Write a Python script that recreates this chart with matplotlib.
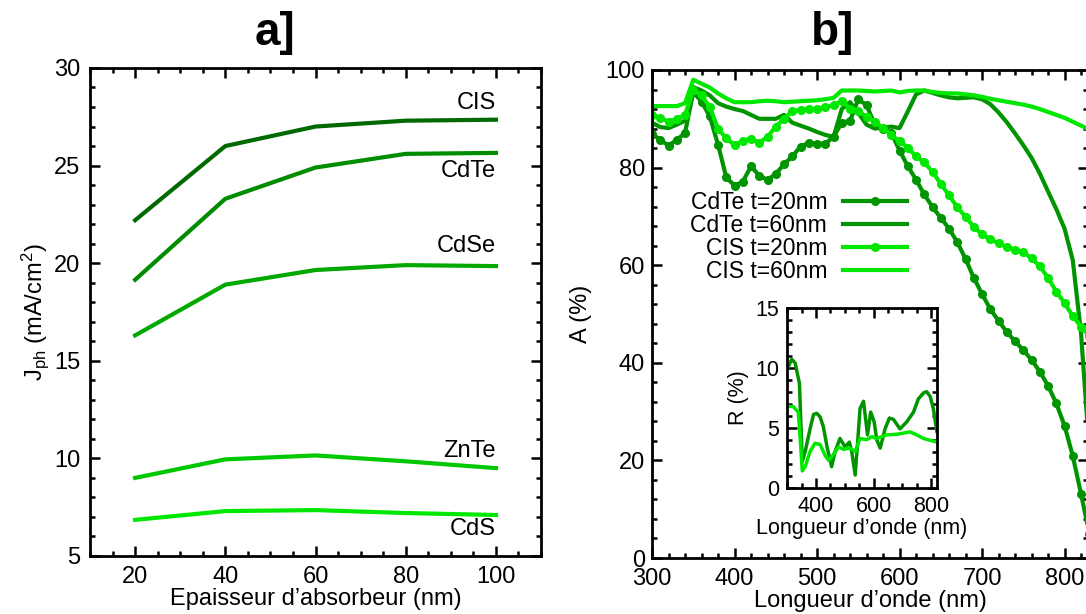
import numpy as np
import matplotlib
matplotlib.use('Agg')
import matplotlib.pyplot as plt
from matplotlib.ticker import MultipleLocator

plt.rcParams['font.family'] = ['Liberation Sans', 'DejaVu Sans']
plt.rcParams['mathtext.fontset'] = 'custom'
plt.rcParams['mathtext.rm'] = 'Liberation Sans'
plt.rcParams['mathtext.it'] = 'Liberation Sans:italic'

# panel a: photocurrent vs absorber thickness
thick = [20, 40, 60, 80, 100]
jph_cis = [22.2, 26.0, 27.0, 27.3, 27.35]
jph_cdte = [19.15, 23.3, 24.9, 25.6, 25.65]
jph_cdse = [16.3, 18.9, 19.65, 19.9, 19.85]
jph_znte = [9.0, 9.95, 10.15, 9.85, 9.5]
jph_cds = [6.85, 7.3, 7.35, 7.2, 7.1]
mat_names = ['CIS', 'CdTe', 'CdSe', 'ZnTe', 'CdS']
label_y = [28.2, 24.7, 20.9, 10.4, 6.4]

# panel b: absorption spectra (10 nm steps)
wl = np.arange(300, 840, 10)
a_cdte20 = [86.9, 85.7, 84.5, 85.7, 87.1, 95.5, 93.5, 90.5, 84.7, 78.0,
            76.3, 77.1, 80.3, 78.3, 77.5, 78.7, 80.7, 82.3, 84.3, 85.1,
            84.9, 84.9, 86.3, 89.2, 89.6, 94.0, 92.8, 88.8, 88.0, 87.1,
            83.5, 80.3, 77.5, 74.5, 71.9, 69.7, 67.5, 64.7, 61.3, 57.4,
            54.1, 51.0, 48.6, 46.3, 44.4, 42.6, 40.6, 38.2, 35.3, 31.7,
            27.1, 20.9, 13.1, 5.0]
a_cdte60 = [89.2, 88.3, 88.1, 88.8, 89.6, 96.5, 95.8, 94.8, 93.2, 92.5,
            92.0, 91.6, 90.8, 90.0, 90.0, 90.0, 90.8, 89.2, 88.6, 88.0,
            87.3, 86.7, 86.3, 92.0, 93.4, 91.2, 88.8, 88.0, 88.2, 88.4,
            88.1, 91.5, 95.0, 95.8, 95.3, 94.8, 94.4, 94.2, 94.3, 94.4,
            94.0, 93.0, 91.3, 89.3, 87.0, 84.6, 82.0, 78.8, 75.1, 71.5,
            67.5, 61.0, 46.0, 22.0]
a_cis20 = [90.8, 90.2, 89.4, 90.0, 90.8, 96.0, 94.8, 92.4, 88.0, 86.0,
           84.6, 85.5, 85.9, 85.1, 86.3, 88.4, 90.0, 91.6, 91.8, 92.0,
           92.0, 92.4, 92.8, 93.6, 92.1, 91.6, 90.4, 89.4, 88.1, 86.7,
           85.4, 84.1, 82.3, 81.1, 79.1, 76.7, 74.3, 71.9, 69.9, 67.9,
           66.3, 65.3, 64.5, 63.7, 63.2, 62.7, 61.4, 59.8, 57.4, 54.6,
           52.2, 49.6, 47.4, 45.5]
a_cis60 = [92.6, 92.6, 92.6, 92.6, 93.2, 98.0, 97.2, 96.4, 95.2, 94.2,
           93.4, 93.4, 93.4, 93.6, 93.7, 93.6, 93.4, 93.5, 93.6, 93.7,
           93.8, 94.0, 94.3, 95.8, 95.8, 95.8, 95.7, 95.6, 95.7, 95.8,
           95.4, 95.7, 95.8, 95.8, 95.5, 95.3, 95.2, 95.2, 95.0, 94.8,
           94.5, 94.1, 93.8, 93.5, 93.2, 92.9, 92.5, 92.0, 91.4, 90.8,
           90.2, 89.4, 88.6, 87.8]

# inset: reflection
wl_r_cdte = [300, 315, 327, 342, 352, 362, 379, 391, 402, 414, 425, 439, 454,
             466, 483, 501, 516, 524, 536, 544, 553, 565, 579, 590, 602, 611,
             623, 640, 655, 669, 692, 716, 739, 756, 774, 785, 797, 808, 820]
r_cdte = [9.9, 10.7, 10.4, 8.7, 2.2, 3.0, 4.9, 6.1, 6.2, 5.9, 5.1, 3.3, 1.75,
          3.0, 4.1, 3.4, 3.8, 3.0, 1.05, 3.6, 6.6, 7.2, 4.4, 6.3, 5.5, 4.0,
          3.3, 4.9, 5.8, 5.7, 4.9, 5.5, 6.3, 7.4, 7.9, 8.0, 7.6, 6.6, 4.7]
wl_r_cis = [300, 321, 338, 346, 352, 362, 379, 396, 414, 431, 443, 458, 478,
            495, 518, 536, 553, 576, 594, 611, 646, 681, 727, 750, 774, 820]
r_cis = [6.8, 6.75, 6.3, 3.6, 1.4, 1.75, 3.0, 3.7, 3.6, 2.7, 2.3, 2.7, 3.4,
         3.2, 3.3, 3.0, 4.1, 4.0, 4.25, 4.1, 4.4, 4.45, 4.65, 4.4, 4.1, 3.8]

c_left = ['#006a00', '#008c00', '#00a800', '#00c800', '#00e800']
c_cdte = '#009400'
c_cis = '#00e800'
FS = 17


def style_axes(ax, lw=2.0):
    for s in ax.spines.values():
        s.set_linewidth(lw)
    ax.tick_params(which='both', direction='in', top=True, right=True,
                   width=lw * 0.9)
    ax.tick_params(which='major', length=7)
    ax.tick_params(which='minor', length=3.5)


fig = plt.figure(figsize=(10.86, 6.14), dpi=100)

# ---- a]
ax1 = fig.add_axes([0.0829, 0.0945, 0.4153, 0.7948])
for ys, col, name, ly in zip([jph_cis, jph_cdte, jph_cdse, jph_znte, jph_cds],
                             c_left, mat_names, label_y):
    ax1.plot(thick, ys, color=col, lw=3)
    ax1.text(100, ly, name, ha='right', va='center', fontsize=FS)
ax1.set_xlim(10, 110)
ax1.set_ylim(5, 30)
ax1.xaxis.set_major_locator(MultipleLocator(20))
ax1.xaxis.set_minor_locator(MultipleLocator(5))
ax1.yaxis.set_major_locator(MultipleLocator(5))
ax1.yaxis.set_minor_locator(MultipleLocator(1))
style_axes(ax1)
ax1.tick_params(axis='x', labelsize=FS, pad=7)
ax1.tick_params(axis='y', labelsize=FS, pad=7)
ax1.set_xlabel('Epaisseur d\u2019absorbeur (nm)', fontsize=FS, labelpad=0)
ax1.set_ylabel(r'J$_{\mathrm{ph}}$ (mA/cm$^{2}$)', fontsize=FS, labelpad=2)
fig.text(0.253, 0.946, 'a]', ha='center', va='center', fontsize=33,
         fontweight='bold')

# ---- b]
ax2 = fig.add_axes([0.6004, 0.0912, 0.4015, 0.7948])
ax2.plot(wl, a_cdte20, color=c_cdte, lw=3, marker='o', ms=5.5,
         label='CdTe t=20nm')
ax2.plot(wl, a_cdte60, color=c_cdte, lw=3, label='CdTe t=60nm')
ax2.plot(wl, a_cis20, color=c_cis, lw=3, marker='o', ms=5.5,
         label='CIS t=20nm')
ax2.plot(wl, a_cis60, color=c_cis, lw=3, label='CIS t=60nm')
ax2.set_xlim(300, 828.5)
ax2.set_ylim(0, 100)
ax2.xaxis.set_major_locator(MultipleLocator(100))
ax2.xaxis.set_minor_locator(MultipleLocator(20))
ax2.yaxis.set_major_locator(MultipleLocator(20))
ax2.yaxis.set_minor_locator(MultipleLocator(4))
style_axes(ax2)
ax2.tick_params(axis='x', labelsize=FS, pad=7)
ax2.tick_params(axis='y', labelsize=FS, pad=5)
ax2.set_xlabel('Longueur d\u2019onde (nm)', fontsize=FS, labelpad=0)
ax2.set_ylabel('A (%)', fontsize=FS, labelpad=10)
leg = ax2.legend(loc='upper left', bbox_to_anchor=(0.067, 0.77), frameon=False,
                 markerfirst=False, fontsize=16.5, handlelength=2.8,
                 labelspacing=0.0, handletextpad=0.7, borderaxespad=0)
for t in leg.get_texts():
    t.set_ha('right')
leg._legend_box.align = 'right'
fig.text(0.767, 0.946, 'b]', ha='center', va='center', fontsize=33,
         fontweight='bold')

# ---- inset
ax3 = fig.add_axes([0.725, 0.2057, 0.1376, 0.2932])
ax3.plot(wl_r_cdte, r_cdte, color=c_cdte, lw=2.5)
ax3.plot(wl_r_cis, r_cis, color=c_cis, lw=2.5)
ax3.set_xlim(300, 820)
ax3.set_ylim(0, 15)
ax3.xaxis.set_major_locator(MultipleLocator(200))
ax3.xaxis.set_minor_locator(MultipleLocator(50))
ax3.yaxis.set_major_locator(MultipleLocator(5))
ax3.yaxis.set_minor_locator(MultipleLocator(1))
style_axes(ax3)
ax3.tick_params(labelsize=15.5, pad=6)
ax3.set_xlabel('Longueur d\u2019onde (nm)', fontsize=15.5, labelpad=1)
ax3.set_ylabel('R (%)', fontsize=15.5, labelpad=4)

fig.savefig('out.png', dpi=100)
